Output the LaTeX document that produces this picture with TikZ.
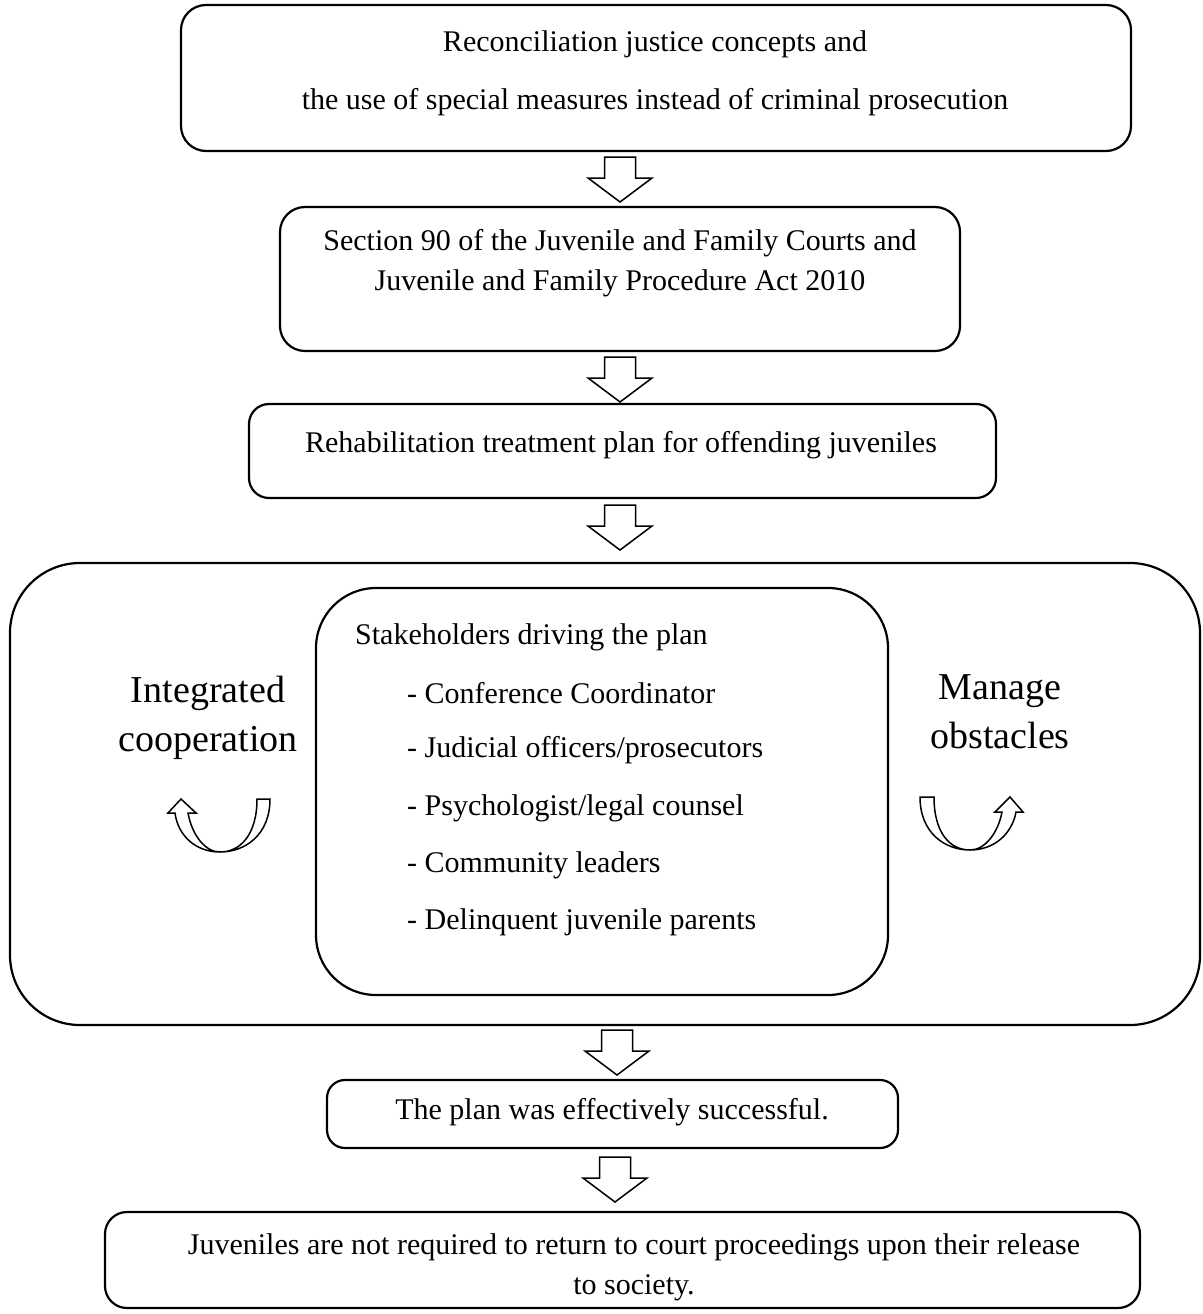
\documentclass[tikz,border=0pt]{standalone}
\usepackage{fontspec}
\setmainfont{Liberation Serif}
\begin{document}
\begin{tikzpicture}[x=1pt,y=-1pt,
  box/.style={draw,line width=2.2pt,rounded corners=#1,inner sep=0pt},
  box/.default=25pt,
  txt/.style={font=\fontsize{30}{40}\selectfont,inner sep=0pt,align=center},
  big/.style={font=\fontsize{38}{49}\selectfont,inner sep=0pt,align=center},
  item/.style={font=\fontsize{30}{36}\selectfont,inner sep=0pt,anchor=west},
  dnarrow/.pic={\draw[line width=1.5pt,fill=white,line join=miter]
    (-15.5,0) -- (15.5,0) -- (15.5,21) -- (32,21) -- (0,45) -- (-32,21) -- (-15.5,21) -- cycle;},
  uarrow/.style={line width=1.5pt,fill=white,line join=miter}
]
\useasboundingbox (0,0) rectangle (1202,1314);

% boxes
\node[box,minimum width=950pt,minimum height=146pt] (b1) at (656,78) {};
\node[txt,font=\fontsize{30}{58}\selectfont] (t1) at (655,73) {Reconciliation justice concepts and\\the use of special measures instead of criminal prosecution};

\node[box,minimum width=680pt,minimum height=144pt] (b2) at (620,279) {};
\node[txt] (t2) at (620,263) {Section 90 of the Juvenile and Family Courts and\\Juvenile and Family Procedure Act 2010};

\node[box=20pt,minimum width=747pt,minimum height=94pt] (b3) at (622.5,451) {};
\node[txt] (t3) at (621,445) {Rehabilitation treatment plan for offending juveniles};

\node[box=70pt,minimum width=1190pt,minimum height=462pt] (b4) at (605,794) {};
\node[box=60pt,minimum width=572pt,minimum height=407pt] (b4i) at (602,791.5) {};

\node[item] (s0) at (355,637) {Stakeholders driving the plan};
\node[item] (s1) at (407,693) {- Conference Coordinator};
\node[item] (s2) at (407,750) {- Judicial officers/prosecutors};
\node[item] (s3) at (407,808) {- Psychologist/legal counsel};
\node[item] (s4) at (407,865) {- Community leaders};
\node[item] (s5) at (407,922) {- Delinquent juvenile parents};

\node[big] (ic) at (208,718) {Integrated\\cooperation};
\node[big] (mo) at (1000,712) {Manage\\obstacles};

\node[box=18pt,minimum width=571pt,minimum height=68pt] (b5) at (612.5,1114) {};
\node[txt] (t5) at (612,1112) {The plan was effectively successful.};

\node[box=22pt,minimum width=1035pt,minimum height=96pt] (b6) at (622.5,1260) {};
\node[txt] (t6) at (634,1267) {Juveniles are not required to return to court proceedings upon their release\\to society.};

% block arrows
\pic at (620,157) {dnarrow};
\pic at (620,357) {dnarrow};
\pic at (620,505) {dnarrow};
\pic at (617,1030) {dnarrow};
\pic at (615,1157) {dnarrow};

% U-turn arrows
\draw[uarrow] (257,799) -- (270,799)
  .. controls (270,835) and (245,852) .. (220,852)
  .. controls (196,852) and (178,836) .. (175,813)
  -- (168,813) -- (181,799) -- (196,813) -- (188,813)
  .. controls (192,835) and (205,852) .. (220,852)
  .. controls (240,852) and (257,835) .. (257,799) -- cycle;
\draw[uarrow] (934,797) -- (920,797)
  .. controls (920,833) and (945,850) .. (970,850)
  .. controls (994,850) and (1012,834) .. (1016,812)
  -- (1023,812) -- (1010,797) -- (995,812) -- (1002,812)
  .. controls (998,833) and (985,850) .. (970,850)
  .. controls (950,850) and (934,833) .. (934,797) -- cycle;
\end{tikzpicture}
\end{document}
